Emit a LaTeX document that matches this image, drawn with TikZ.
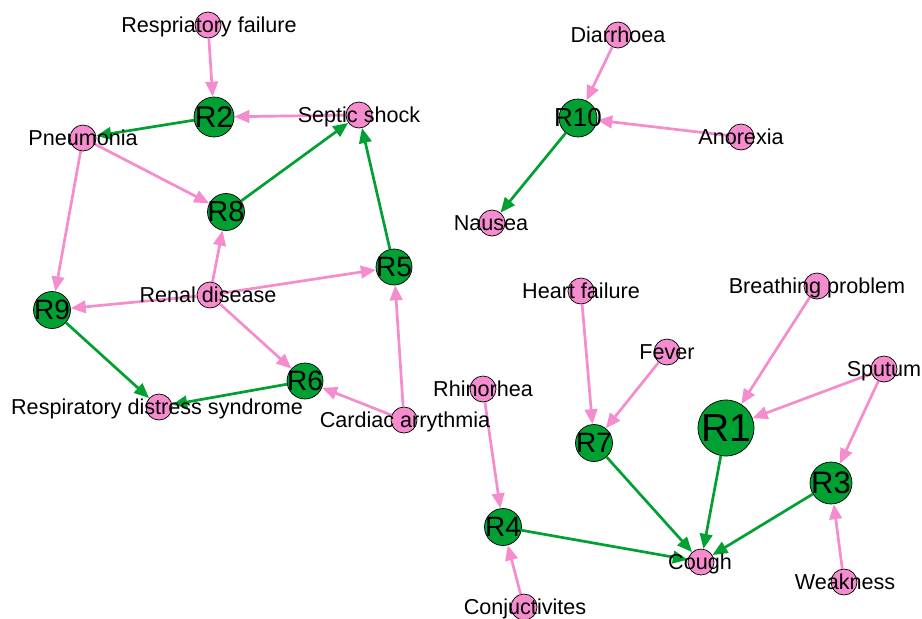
\documentclass[tikz,border=0pt]{standalone}
\usepackage{fontspec}
\setmainfont{Liberation Sans}
\usetikzlibrary{arrows.meta}
\definecolor{vpink}{RGB}{245,140,205}
\definecolor{vgreen}{RGB}{0,160,50}
\begin{document}
\begin{tikzpicture}[x=1pt,y=-1pt,
  dis/.style={circle, draw=black, line width=0.7pt, fill=vpink, minimum size=26pt, inner sep=0pt},
  rule/.style={circle, draw=black, line width=0.7pt, fill=vgreen, inner sep=0pt},
  lbl/.style={font=\fontsize{21.6}{24}\selectfont, inner sep=0pt, text height=15.5pt, text depth=0pt},
  rl/.style={font=\fontsize{#1}{#1}\selectfont, inner sep=0pt},
  pe/.style={draw=vpink, line width=2.7pt, -{Triangle[length=15pt,width=12.5pt]}},
  ge/.style={draw=vgreen, line width=2.7pt, -{Triangle[length=15pt,width=12.5pt]}}]
\fill[white] (0,0) rectangle (922,619);
\useasboundingbox (0,0) rectangle (922,619);
% disease nodes
\node[dis] (rf) at (208,25) {};
\node[dis] (ss) at (359,115) {};
\node[dis] (pn) at (83,138) {};
\node[dis] (rd) at (210,295) {};
\node[dis] (rds) at (159,407) {};
\node[dis] (ca) at (404,420) {};
\node[dis] (dia) at (618,35) {};
\node[dis] (ano) at (741,137) {};
\node[dis] (nau) at (492,223) {};
\node[dis] (hf) at (581,291) {};
\node[dis] (bp) at (817,286) {};
\node[dis] (fev) at (667,352) {};
\node[dis] (spu) at (884,369) {};
\node[dis] (rhi) at (483,389) {};
\node[dis] (cou) at (701,562) {};
\node[dis] (wea) at (844,582) {};
\node[dis] (con) at (524,607) {};
% rule nodes
\node[rule, minimum size=56pt] (R1) at (726,428) {};
\node[rule, minimum size=40pt] (R2) at (214,117) {};
\node[rule, minimum size=42pt] (R3) at (831,483) {};
\node[rule, minimum size=37pt] (R4) at (503,527) {};
\node[rule, minimum size=36pt] (R5) at (394,267) {};
\node[rule, minimum size=36pt] (R6) at (305,381) {};
\node[rule, minimum size=37pt] (R7) at (594,443) {};
\node[rule, minimum size=37pt] (R8) at (226,212) {};
\node[rule, minimum size=37pt] (R9) at (52,310) {};
\node[rule, minimum size=38pt] (R10) at (578,118) {};
% edges
\draw[pe] (rf) -- (R2);
\draw[pe] (ss) -- (R2);
\draw[ge] (R2) -- (pn);
\draw[pe] (pn) -- (R8);
\draw[pe] (pn) -- (R9);
\draw[ge] (R8) -- (ss);
\draw[ge] (R5) -- (ss);
\draw[pe] (rd) -- (R8);
\draw[pe] (rd) -- (R5);
\draw[pe] (rd) -- (R9);
\draw[pe] (rd) -- (R6);
\draw[ge] (R9) -- (rds);
\draw[ge] (R6) -- (rds);
\draw[pe] (ca) -- (R6);
\draw[pe] (ca) -- (R5);
\draw[pe] (dia) -- (R10);
\draw[pe] (ano) -- (R10);
\draw[ge] (R10) -- (nau);
\draw[pe] (hf) -- (R7);
\draw[pe] (fev) -- (R7);
\draw[pe] (bp) -- (R1);
\draw[pe] (spu) -- (R1);
\draw[pe] (spu) -- (R3);
\draw[pe] (wea) -- (R3);
\draw[pe] (rhi) -- (R4);
\draw[pe] (con) -- (R4);
\draw[ge] (R7) -- (cou);
\draw[ge] (R1) -- (cou);
\draw[ge] (R3) -- (cou);
\draw[ge] (R4) -- (cou);
% labels
\node[lbl] (trf) at (209,25) {Respriatory failure};
\node[lbl] (tss) at (359,115) {Septic shock};
\node[lbl] (tpn) at (83,138) {Pneumonia};
\node[lbl] (trd) at (208,295) {Renal disease};
\node[lbl] (trds) at (157,407) {Respiratory distress syndrome};
\node[lbl] (tca) at (405,420) {Cardiac arrythmia};
\node[lbl] (tdia) at (618,35) {Diarrhoea};
\node[lbl] (tano) at (741,137) {Anorexia};
\node[lbl] (tnau) at (491,223) {Nausea};
\node[lbl] (thf) at (581,291) {Heart failure};
\node[lbl] (tbp) at (817,286) {Breathing problem};
\node[lbl] (tfev) at (667,352) {Fever};
\node[lbl] (tspu) at (884,369) {Sputum};
\node[lbl] (trhi) at (483,389) {Rhinorhea};
\node[lbl] (tcou) at (700,562) {Cough};
\node[lbl] (twea) at (845,582) {Weakness};
\node[lbl] (tcon) at (525,607) {Conjuctivites};
\node[rl=39] (tR1) at (R1) {R1};
\node[rl=30] (tR2) at (R2) {R2};
\node[rl=31] (tR3) at (R3) {R3};
\node[rl=28] (tR4) at (R4) {R4};
\node[rl=28] (tR5) at (R5) {R5};
\node[rl=28] (tR6) at (R6) {R6};
\node[rl=28] (tR7) at (R7) {R7};
\node[rl=29] (tR8) at (R8) {R8};
\node[rl=28] (tR9) at (R9) {R9};
\node[rl=26] (tR10) at (R10) {R10};
\end{tikzpicture}
\end{document}
